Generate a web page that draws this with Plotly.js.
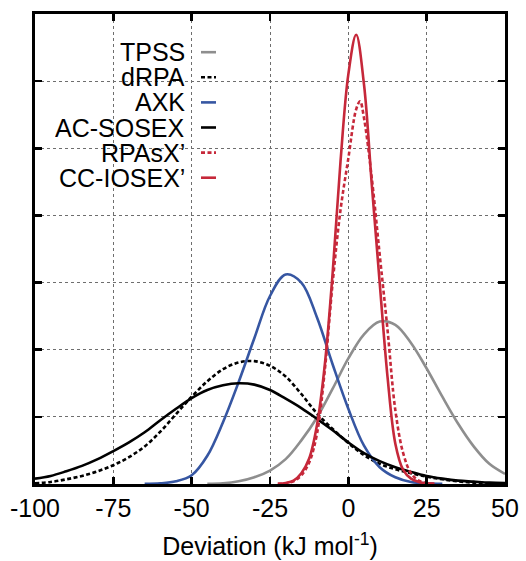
<!DOCTYPE html>
<html>
<head>
<meta charset="utf-8">
<script src="https://cdn.plot.ly/plotly-3.0.1.min.js"></script>
<style>
html,body{margin:0;padding:0;background:#fff;}
#chart{width:526px;height:561px;}
</style>
</head>
<body>
<div id="chart"></div>
<script>
// ---- data ----
const seriesNames = ["TPSS", "dRPA", "AXK", "AC-SOSEX", "RPAsX\u2019", "CC-IOSEX\u2019"];

const xTickVals = [-100, -75, -50, -25, 0, 25, 50];
const xTickText = ["-100", "-75", "-50", "-25", "0", "25", "50"];
const yTickVals = [1, 2, 3, 4, 5, 6];

// TPSS (grey)
const tpssX = [-45, -40, -35, -30, -25, -20, -15, -10, -5, 0, 5, 10, 15, 20, 25, 30, 35, 40, 45, 50];
const tpssY = [0.003, 0.01, 0.04, 0.10, 0.20, 0.37, 0.65, 0.99, 1.42, 1.87, 2.23, 2.42, 2.37, 2.10, 1.72, 1.30, 0.90, 0.56, 0.30, 0.15];

// dRPA (black dashed)
const drpaX = [-100, -95, -90, -85, -80, -75, -70, -65, -60, -55, -50, -45, -40, -35, -30, -25, -20, -15, -10, -5, 0, 5, 10, 15, 20, 25, 30, 35, 40, 45, 50];
const drpaY = [0.01, 0.03, 0.07, 0.12, 0.19, 0.28, 0.40, 0.56, 0.78, 1.04, 1.30, 1.53, 1.71, 1.81, 1.83, 1.76, 1.60, 1.34, 1.05, 0.82, 0.61, 0.43, 0.30, 0.22, 0.16, 0.11, 0.07, 0.04, 0.02, 0.01, 0.005];

// AXK (blue)
const axkX = [-65, -60, -55, -50, -45, -40, -35, -30, -25, -20, -15, -10, -5, 0, 5, 10, 15, 20, 25, 30];
const axkY = [0.003, 0.01, 0.04, 0.13, 0.42, 0.92, 1.52, 2.17, 2.80, 3.12, 3.00, 2.48, 1.78, 1.12, 0.57, 0.25, 0.10, 0.03, 0.01, 0.003];

// AC-SOSEX (black solid)
const sosexX = [-100, -95, -90, -85, -80, -75, -70, -65, -60, -55, -50, -45, -40, -35, -30, -25, -20, -15, -10, -5, 0, 5, 10, 15, 20, 25, 30, 35, 40, 45, 50];
const sosexY = [0.08, 0.12, 0.19, 0.27, 0.37, 0.49, 0.62, 0.77, 0.95, 1.12, 1.28, 1.40, 1.47, 1.50, 1.48, 1.40, 1.27, 1.13, 0.97, 0.80, 0.62, 0.46, 0.34, 0.25, 0.18, 0.12, 0.08, 0.05, 0.035, 0.02, 0.015];

// RPAsX' (red dashed)
const rpasxX = [-22.5, -20, -17.5, -15, -12.5, -10, -7.5, -5, -2.5, 0, 2.5, 3.75, 5, 7.5, 10, 12.5, 15, 17.5, 20, 22.5, 25, 27.5];
const rpasxY = [0.002, 0.01, 0.04, 0.13, 0.32, 0.75, 1.70, 3.00, 4.08, 4.85, 5.58, 5.70, 5.45, 4.55, 3.42, 2.30, 1.10, 0.46, 0.16, 0.05, 0.015, 0.004];

// CC-IOSEX' (red solid)
const cciosexX = [-22.5, -20, -17.5, -15, -12.5, -10, -7.5, -5, -2.5, 0, 2.5, 5, 7.5, 10, 12.5, 15, 17.5, 20, 22.5, 25, 27.5];
const cciosexY = [0.003, 0.015, 0.05, 0.16, 0.38, 0.88, 1.78, 3.15, 4.80, 6.10, 6.69, 5.95, 4.45, 3.00, 1.60, 0.60, 0.21, 0.08, 0.03, 0.01, 0.003];

const xs = [tpssX, drpaX, axkX, sosexX, rpasxX, cciosexX];
const ys = [tpssY, drpaY, axkY, sosexY, rpasxY, cciosexY];

// ---- styles ----
const colors = ["#8e8e8e", "#000000", "#3656a2", "#000000", "#c6283a", "#c6283a"];
const dashes = ["solid", "4px,2.5px", "solid", "solid", "4px,2.5px", "solid"];
const lineW = 2.6;
const FONT = "Liberation Sans, Arial, Helvetica, sans-serif";
const FS = 25;

const traces = seriesNames.map((n, i) => ({
  type: "scatter", mode: "lines", name: n,
  x: xs[i], y: ys[i],
  line: {color: colors[i], width: lineW, dash: dashes[i], shape: "spline", smoothing: 1},
  showlegend: false, hoverinfo: "skip"
}));

// legend drawn as text + sample lines (text on the left, sample on the right)
const W = 526, H = 561, ML = 35, MR = 21, MT = 14, MB = 77;
const pw = W - ML - MR, ph = H - MT - MB;
const legTextRight = 186, legLineL = 201, legLineR = 216, legTop = 52.2, legStep = 25.1;
const annotations = [];
const shapes = [];
seriesNames.forEach((n, i) => {
  const py = legTop + i * legStep;
  const yp = (H - MB - py) / ph;
  annotations.push({
    xref: "paper", yref: "paper", x: (legTextRight - ML) / pw, y: yp,
    xanchor: "right", yanchor: "middle", showarrow: false, text: n,
    height: 24, borderpad: 0, valign: "middle", align: "right",
    font: {family: FONT, size: FS, color: "#000"}
  });
  shapes.push({
    type: "line", xref: "paper", yref: "paper",
    x0: (legLineL - ML) / pw, x1: (legLineR - ML) / pw, y0: yp, y1: yp,
    line: {color: colors[i], width: lineW, dash: dashes[i]}
  });
});

const axisCommon = {
  showline: true, linewidth: 3, linecolor: "#000", mirror: "ticks",
  ticks: "inside", ticklen: 7, tickwidth: 2.5, tickcolor: "#000",
  showgrid: true, gridcolor: "#6e6e6e", gridwidth: 1, griddash: "dot",
  zeroline: false, fixedrange: true
};

const layout = {
  width: W, height: H,
  margin: {l: ML, r: MR, t: MT, b: MB},
  paper_bgcolor: "#fff", plot_bgcolor: "#fff",
  font: {family: FONT, color: "#000", size: FS},
  xaxis: Object.assign({}, axisCommon, {
    range: [-100, 50], tickmode: "array", tickvals: xTickVals, ticktext: xTickText,
    tickfont: {family: FONT, size: FS, color: "#000"},
    title: {text: "Deviation (kJ mol<sup>-1</sup>)", font: {family: FONT, size: FS, color: "#000"}, standoff: 17}
  }),
  yaxis: Object.assign({}, axisCommon, {
    range: [0, 7], tickmode: "array", tickvals: yTickVals, showticklabels: false
  }),
  annotations: annotations,
  shapes: shapes,
  showlegend: false
};

Plotly.newPlot("chart", traces, layout, {displayModeBar: false, staticPlot: true});
</script>
</body>
</html>
